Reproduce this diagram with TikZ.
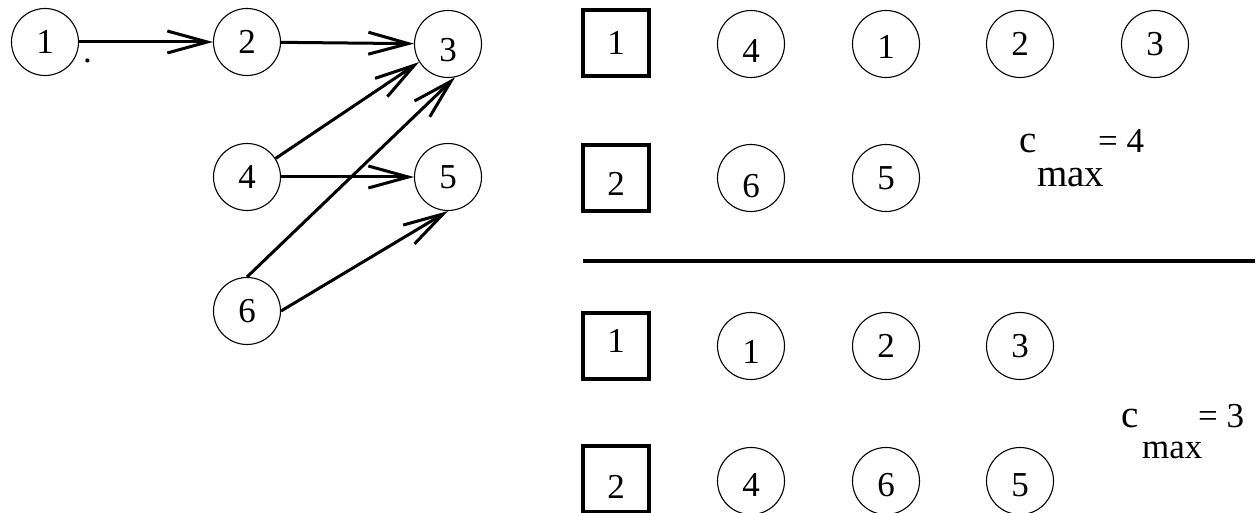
\documentclass[tikz,border=0pt]{standalone}
\usepackage{fontspec}
\setmainfont{Liberation Serif}
\usetikzlibrary{arrows.meta}
\begin{document}
\begin{tikzpicture}[x=1pt,y=-1pt,
  vtx/.style={circle,draw,line width=1.1pt,minimum size=67pt,inner sep=0pt,
    font=\fontsize{35}{38}\selectfont,text height=23pt,text depth=0pt},
  proc/.style={rectangle,draw,line width=3.5pt,minimum size=66pt,inner sep=0pt,
    font=\fontsize{35}{38}\selectfont,text height=23pt,text depth=0pt},
  arr/.style={line width=3pt,-{Straight Barb[length=40pt,width=22pt]}},
  bigtxt/.style={font=\fontsize{39}{42}\selectfont,inner sep=0pt,anchor=base west},
  midtxt/.style={font=\fontsize{35}{38}\selectfont,inner sep=0pt,anchor=base west},
  sep/.style={line width=3.5pt}]
\useasboundingbox (0,0) rectangle (1257,513);
% ---------- precedence graph ----------
\node[vtx] (g1) at (45,42) {1};
\node[vtx] (g2) at (247,42) {2};
\node[vtx] (g3) at (448,44) {\raisebox{-6pt}{3}};
\node[vtx] (g4) at (247,177) {4};
\node[vtx] (g5) at (448,177) {5};
\node[vtx] (g6) at (247,311) {6};
\node[midtxt] (dot) at (83,63) {.};
\draw[arr] (g1) -- (g2);
\draw[arr] (g2) -- (g3);
\draw[arr] (g4.33) -- (g3.212);
\draw[arr] (g4) -- (g5);
\draw[arr] (g6.north) -- (g3.-78);
\draw[arr] (g6.east) -- (g5.south);
% ---------- schedule with c_max = 4 ----------
\node[proc] (pa1) at (616,43) {1};
\node[vtx] (a4) at (751,44) {\raisebox{-7pt}{4}};
\node[vtx] (a1) at (886,44) {\raisebox{-3pt}{1}};
\node[vtx] (a2) at (1020,44) {2};
\node[vtx] (a3) at (1155,44) {3};
\node[proc] (pa2) at (616,178) {\raisebox{-6pt}{2}};
\node[vtx] (a6) at (751,178) {\raisebox{-8pt}{6}};
\node[vtx] (a5) at (886,178) {5};
\node[bigtxt] (ca) at (1019,153) {c};
\node[bigtxt] (ma) at (1037,186) {max};
\node[midtxt] (ea) at (1098,153) {= 4};
% ---------- separator ----------
\coordinate (sl) at (583,261);
\coordinate (sr) at (1255,261);
\draw[sep] (sl) -- (sr);
% ---------- schedule with c_max = 3 ----------
\node[proc] (pb1) at (616,346) {\raisebox{5pt}{1}};
\node[vtx] (b1) at (751,346) {\raisebox{-6pt}{1}};
\node[vtx] (b2) at (886,346) {2};
\node[vtx] (b3) at (1020,346) {3};
\node[proc] (pb2) at (616,479) {\raisebox{-8pt}{2}};
\node[vtx] (b4) at (751,481) {\raisebox{-4pt}{4}};
\node[vtx] (b6) at (886,481) {\raisebox{-4pt}{6}};
\node[vtx] (b5) at (1020,481) {\raisebox{-4pt}{5}};
\node[bigtxt] (cb) at (1121,427) {c};
\node[bigtxt,font=\fontsize{35}{38}\selectfont] (mb) at (1142,458) {max};
\node[midtxt] (eb) at (1198,427) {= 3};
\end{tikzpicture}
\end{document}
